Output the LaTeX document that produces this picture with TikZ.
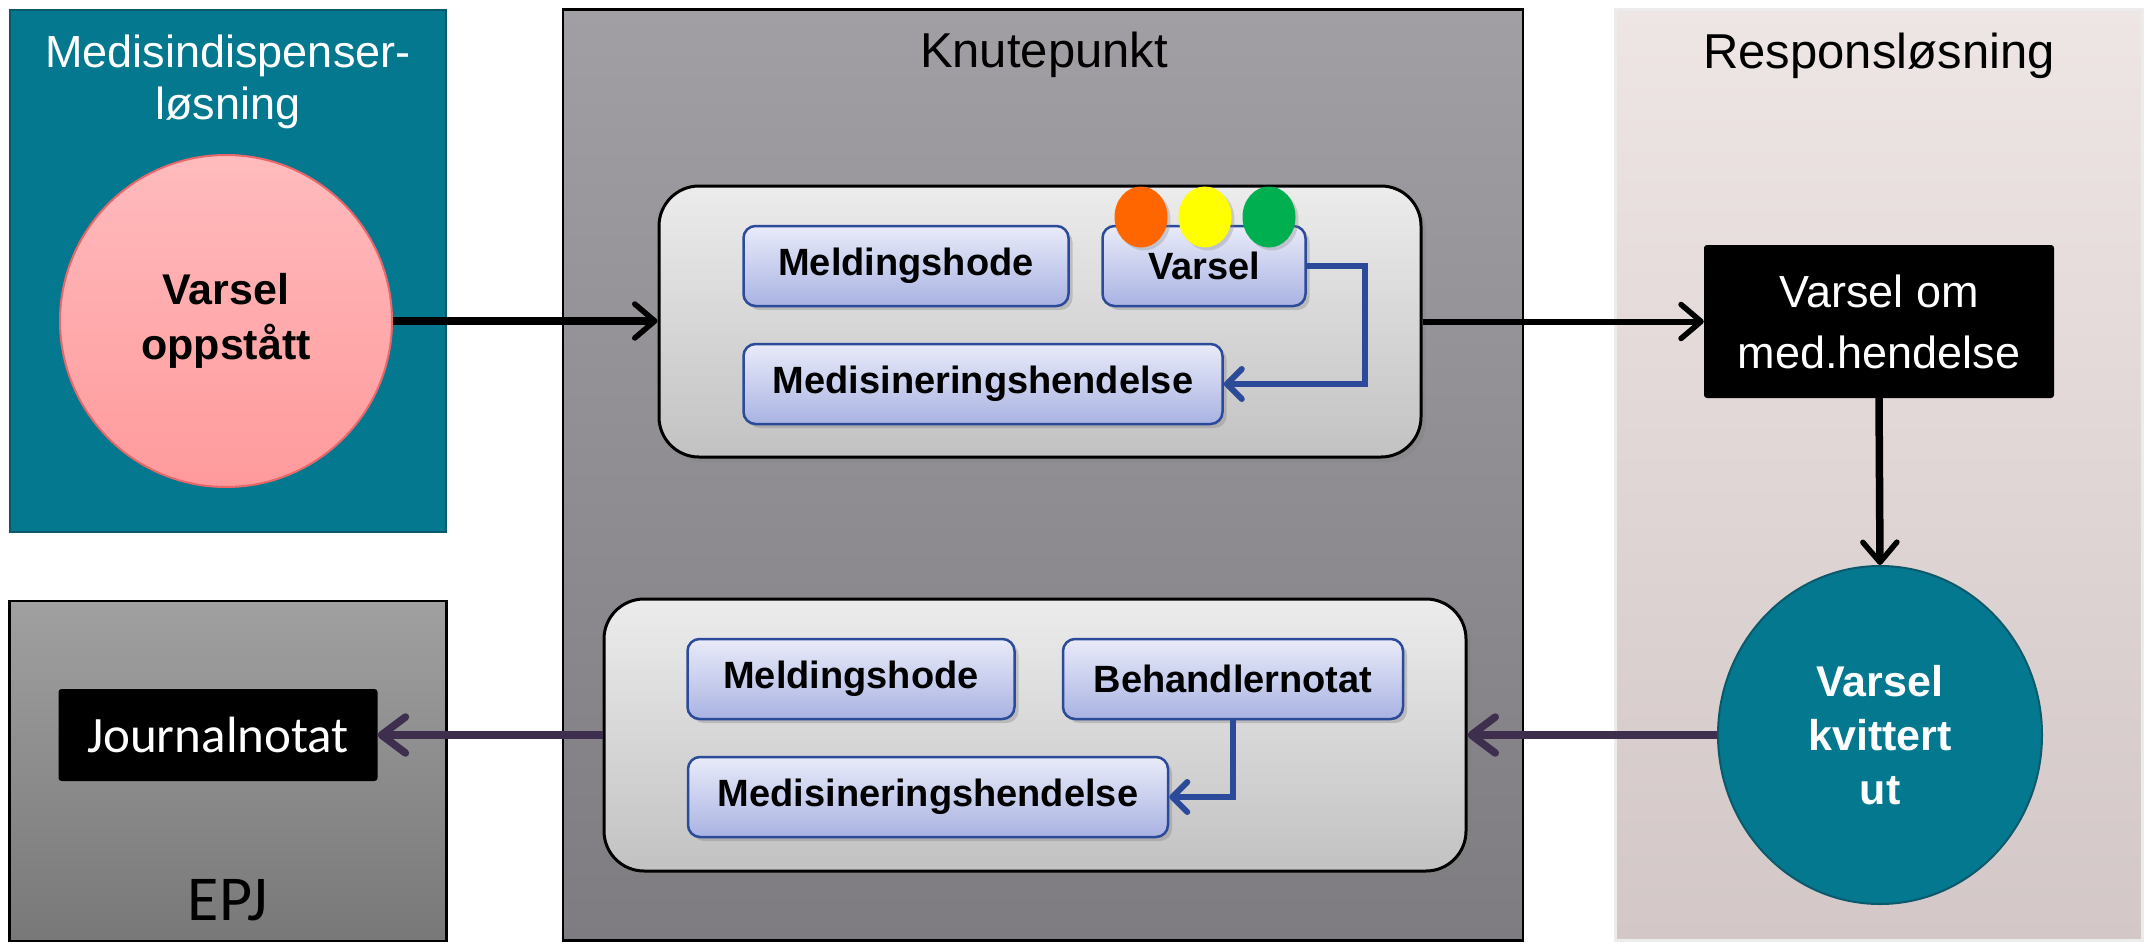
\documentclass[tikz,border=0pt]{standalone}
\usepackage{fontspec}
\setmainfont{Liberation Sans}
\newfontfamily\calibri{Carlito}
\usetikzlibrary{arrows.meta,shapes.geometric,shadows}
\definecolor{tealfill}{HTML}{04788F}
\definecolor{tealline}{HTML}{0B5A6C}
\definecolor{pinktop}{HTML}{FFBBBD}
\definecolor{pinkbot}{HTML}{FF9A9C}
\definecolor{pinkline}{HTML}{E8686A}
\definecolor{knuttop}{HTML}{A19FA3}
\definecolor{knutbot}{HTML}{7E7C80}
\definecolor{epjtop}{HTML}{A0A0A0}
\definecolor{epjbot}{HTML}{787878}
\definecolor{resptop}{HTML}{EEE5E5}
\definecolor{respbot}{HTML}{D3C7C7}
\definecolor{innertop}{HTML}{ECECEC}
\definecolor{innerbot}{HTML}{C2C2C2}
\definecolor{bluetop}{HTML}{E9EBF9}
\definecolor{bluebot}{HTML}{A9B3E2}
\definecolor{blueline}{HTML}{2C4A9A}
\definecolor{purplearrow}{HTML}{3F2F4E}
\definecolor{lorange}{HTML}{FF6600}
\definecolor{lyellow}{HTML}{FFFF00}
\definecolor{lgreen}{HTML}{00B050}
\begin{document}
\begin{tikzpicture}[x=1pt,y=-1pt,
  panelbox/.style={rectangle, inner sep=0pt, line width=2.5pt},
  innerbox/.style={rectangle, rounded corners=40pt, draw=black, line width=3pt,
    top color=innertop, bottom color=innerbot, inner sep=0pt,
    drop shadow={shadow xshift=5pt, shadow yshift=-5pt, opacity=0.35}},
  bluebox/.style={rectangle, rounded corners=12pt, draw=blueline, line width=2.5pt,
    top color=bluetop, bottom color=bluebot, inner sep=0pt,
    font=\fontsize{38}{44}\selectfont\bfseries,
    drop shadow={shadow xshift=4pt, shadow yshift=-4pt, opacity=0.35}},
  blackbox/.style={rectangle, rounded corners=3pt, fill=black, text=white, inner sep=0pt, align=center},
  light/.style={ellipse, inner sep=0pt, minimum width=53pt, minimum height=61pt,
    drop shadow={shadow xshift=3pt, shadow yshift=-3pt, opacity=0.3}},
  blackarrow/.style={draw=black, -{Straight Barb[length=20pt,width=34pt,line width=5.5pt,round]}},
  purplearr/.style={draw=purplearrow, line width=7.5pt, -{Straight Barb[length=24pt,width=36pt,round]}},
  bluecon/.style={draw=blueline, line width=6pt, -{Straight Barb[length=15pt,width=30pt,round]}},
  titletext/.style={align=center, inner sep=0pt}
]
\useasboundingbox (0,0) rectangle (2152,950);
\fill[white] (0,0) rectangle (2152,950);

% panels
\node[panelbox, fill=tealfill, draw=tealline, minimum width=436pt, minimum height=522pt] (medpanel) at (228,271) {};
\node[panelbox, top color=epjtop, bottom color=epjbot, draw=black, minimum width=437pt, minimum height=340pt] (epjpanel) at (228,771) {};
\node[panelbox, top color=knuttop, bottom color=knutbot, draw=black, minimum width=960pt, minimum height=931pt] (knutpanel) at (1043,475) {};
\node[panelbox, top color=resptop, bottom color=respbot, draw=white!85!gray, minimum width=527pt, minimum height=931pt] (resppanel) at (1879,475) {};

% titles
\node[titletext, text=white, font=\fontsize{45}{52}\selectfont] (medtitle) at (228,82) {Medisindispenser-\\løsning};
\node[titletext, font=\fontsize{49}{56}\selectfont] (knuttitle) at (1044,55) {Knutepunkt};
\node[titletext, font=\fontsize{49}{56}\selectfont] (resptitle) at (1879,56) {Responsløsning};
\node[titletext, font=\calibri\fontsize{64}{70}\selectfont] (epjtitle) at (228,900) {EPJ};

% left circle
\node[circle, top color=pinktop, bottom color=pinkbot, draw=pinkline, line width=2pt,
  minimum size=332pt, inner sep=0pt, align=center, font=\fontsize{43}{55}\selectfont\bfseries] (oppst) at (226,321) {Varsel\\oppstått};

% Journalnotat
\node[blackbox, minimum width=319pt, minimum height=92pt, font=\calibri\fontsize{51}{58}\selectfont] (journal) at (218,735) {Journalnotat};

% top inner box
\node[innerbox, minimum width=762pt, minimum height=271pt] (inner1) at (1040,321.5) {};
\node[bluebox, minimum width=325pt, minimum height=80pt] (mh1) at (906,266) {Meldingshode};
\node[bluebox, minimum width=203pt, minimum height=80pt] (varsel) at (1204,266) {Varsel};
\node[bluebox, minimum width=479pt, minimum height=80pt] (medis1) at (983,384) {Medisineringshendelse};
\node[light, fill=lorange] (lo) at (1141,217) {};
\node[light, fill=lyellow] (ly) at (1205,217) {};
\node[light, fill=lgreen] (lg) at (1269,217) {};
\draw[bluecon] (varsel.east) -- ++(58,0) |- (medis1.east);

% bottom inner box
\node[innerbox, minimum width=862pt, minimum height=272pt] (inner2) at (1035,735) {};
\node[bluebox, minimum width=327pt, minimum height=80pt] (mh2) at (851,679) {Meldingshode};
\node[bluebox, minimum width=340pt, minimum height=80pt] (behand) at (1233,679) {Behandlernotat};
\node[bluebox, minimum width=480pt, minimum height=80pt] (medis2) at (928,797) {Medisineringshendelse};
\draw[bluecon] (behand.south) |- (medis2.east);

% right side
\node[blackbox, minimum width=350pt, minimum height=153pt, font=\fontsize{45}{61}\selectfont] (varselom) at (1879,321.5) {Varsel om\\med.hendelse};
\node[ellipse, fill=tealfill, draw=tealline, line width=2pt, minimum width=324pt, minimum height=338pt,
  inner sep=0pt, align=center, text=white, font=\fontsize{43}{54}\selectfont\bfseries] (kvitt) at (1880,735) {Varsel\\kvittert\\ut};

% connectors
\draw[blackarrow, line width=7.5pt] (oppst.east) -- (oppst.east -| inner1.west);
\draw[blackarrow, line width=6pt] (inner1.east) -- (varselom.west);
\draw[blackarrow, line width=7.5pt] (varselom.south) -- (kvitt.north);
\draw[purplearr] (kvitt.west) -- (inner2.east);
\draw[purplearr] (inner2.west) -- (journal.east);
\end{tikzpicture}
\end{document}
